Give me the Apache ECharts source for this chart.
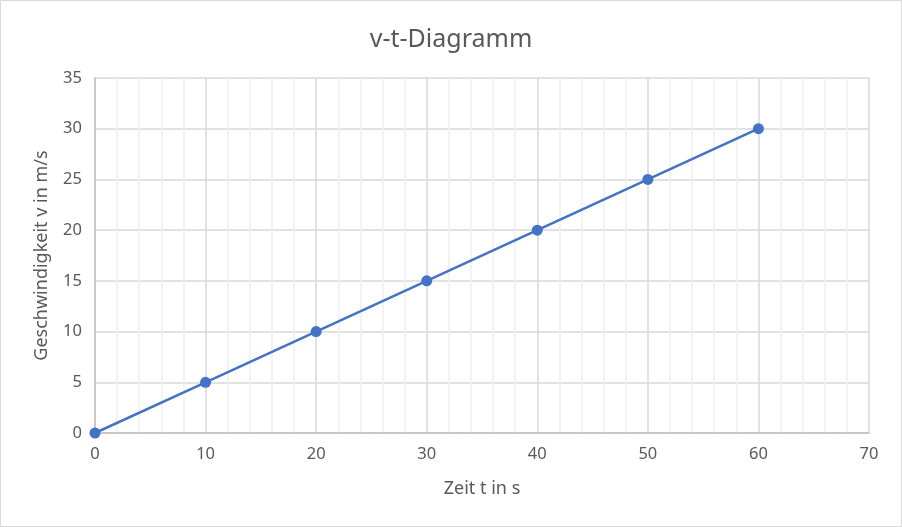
<!DOCTYPE html>
<html>
<head>
<meta charset="utf-8">
<script src="https://cdn.jsdelivr.net/npm/echarts@6/dist/echarts.min.js"></script>
<style>
  html, body { margin: 0; padding: 0; background: #fff; }
  #main { width: 902px; height: 527px; }
</style>
</head>
<body>
<div id="main"></div>
<script>
// Messwerte: Zeit t (s) und Geschwindigkeit v (m/s)
var zeit = [0, 10, 20, 30, 40, 50, 60];
var geschw = [0, 5, 10, 15, 20, 25, 30];

var textColor = '#595959';
var fontName = '"Noto Sans", sans-serif';

var punkte = [];
for (var i = 0; i < zeit.length; i++) {
  punkte.push([zeit[i], geschw[i]]);
}

var myChart = echarts.init(document.getElementById('main'));
var option = {
  backgroundColor: '#fff',
  animation: false,
  title: {
    text: 'v-t-Diagramm',
    left: 'center',
    top: 22,
    textStyle: { color: textColor, fontSize: 25, fontWeight: 'normal', fontFamily: fontName }
  },
  graphic: [{
    type: 'rect',
    shape: { x: 0.5, y: 0.5, width: 901, height: 526 },
    style: { fill: 'none', stroke: '#d9d9d9', lineWidth: 1 },
    silent: true
  }],
  grid: { left: 95, right: 33, top: 78, bottom: 94 },
  xAxis: {
    type: 'value',
    min: 0, max: 70, interval: 10,
    name: 'Zeit t in s',
    nameLocation: 'middle',
    nameGap: 47,
    nameTextStyle: { color: textColor, fontSize: 18, fontFamily: fontName },
    axisLine: { show: true, onZero: false, lineStyle: { color: '#bfbfbf', width: 1.5 } },
    axisTick: { show: false },
    axisLabel: { color: textColor, fontSize: 16.5, fontFamily: fontName, margin: 13 },
    splitLine: { show: true, lineStyle: { color: '#d9d9d9', width: 1.5 } },
    minorTick: { show: false, splitNumber: 5 },
    minorSplitLine: { show: true, lineStyle: { color: '#efefef', width: 1.5 } }
  },
  yAxis: {
    type: 'value',
    min: 0, max: 35, interval: 5,
    name: 'Geschwindigkeit v in m/s',
    nameLocation: 'middle',
    nameGap: 44,
    nameTextStyle: { color: textColor, fontSize: 18, fontFamily: fontName },
    axisLine: { show: true, lineStyle: { color: '#bfbfbf', width: 1.5 } },
    axisTick: { show: false },
    axisLabel: { color: textColor, fontSize: 16.5, fontFamily: fontName, margin: 13 },
    splitLine: { show: true, lineStyle: { color: '#d9d9d9', width: 1.5 } }
  },
  series: [{
    type: 'line',
    data: punkte,
    symbol: 'circle',
    symbolSize: 11,
    itemStyle: { color: '#4472c4' },
    lineStyle: { color: '#4472c4', width: 2.5 }
  }]
};
myChart.setOption(option);
</script>
</body>
</html>
